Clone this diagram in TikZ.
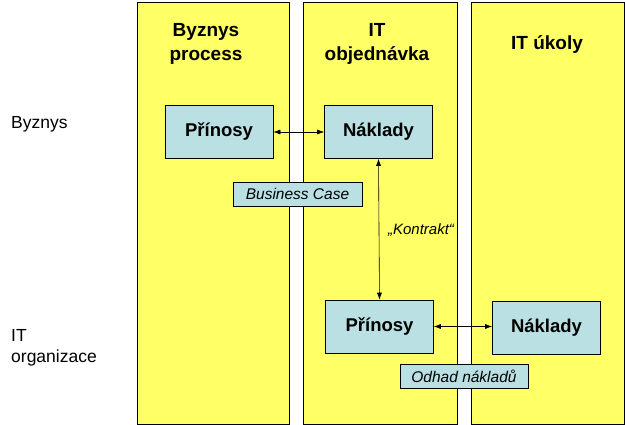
\documentclass[tikz,border=0pt]{standalone}
\usepackage{fontspec}
\setmainfont{Liberation Sans}
\usetikzlibrary{arrows.meta}
\definecolor{lane}{HTML}{FFFF66}
\definecolor{boxfill}{HTML}{BBE0E3}
\begin{document}
\begin{tikzpicture}[x=1pt,y=-1pt]
\tikzstyle{every node}+=[inner sep=0pt]
\tikzstyle{lanebox}=[draw=black,fill=lane,line width=0.8pt]
\tikzstyle{item}=[draw=black,fill=boxfill,line width=0.6pt,minimum width=108pt,minimum height=53pt,font=\fontsize{18.5}{21}\selectfont\bfseries]
\tikzstyle{note}=[draw=black,fill=boxfill,line width=0.6pt,minimum height=24pt,font=\fontsize{15.5}{17}\selectfont\itshape]
\tikzstyle{head}=[align=center,font=\fontsize{19}{24}\selectfont\bfseries]
\tikzstyle{link}=[line width=0.6pt,{Latex[length=7pt,width=5pt]}-{Latex[length=7pt,width=5pt]}]
\useasboundingbox (0,0) rectangle (625,425);
% lanes
\draw[lanebox] (137,2) rectangle (289,424);
\draw[lanebox] (303,2) rectangle (457,424);
\draw[lanebox] (471,2) rectangle (624,424);
\node[head] (hbiz) at (206,44) {Byznys\\process};
\node[head] (hord) at (377,44) {IT\\objednávka};
\node[head] (htask) at (547,45) {IT úkoly};
\node[anchor=west,font=\fontsize{17.5}{21}\selectfont] (rbiz) at (11,124) {Byznys};
\node[anchor=west,align=left,font=\fontsize{17.5}{21}\selectfont] (rit) at (11,348) {IT\\organizace};
% boxes
\node[item] (benbiz) at (219,132) {Přínosy};
\node[item] (costord) at (378.5,132) {Náklady};
\node[item] (benit) at (379.5,326.5) {Přínosy};
\node[item] (costit) at (546.5,327.5) {Náklady};
\node[note,minimum width=129pt] (bcase) at (297.5,194) {Business Case};
\node[note,minimum width=128pt] (estim) at (464,376) {Odhad nákladů};
% links
\draw[link] (benbiz.east) -- (costord.west);
\draw[link] (costord.south) -- (benit.north);
\draw[link] (benit.east) -- (costit.west |- benit.east);
\node[font=\fontsize{15}{17}\selectfont\itshape] (contract) at (421,230) {„Kontrakt“};
\end{tikzpicture}
\end{document}
